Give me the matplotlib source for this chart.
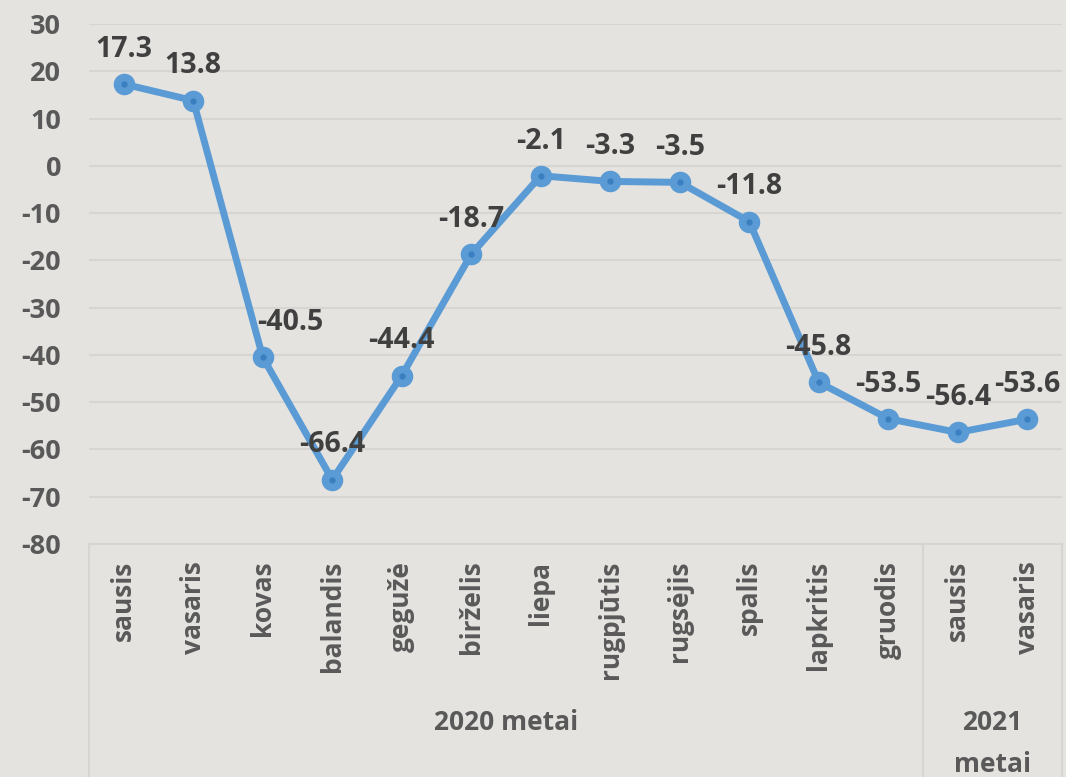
import matplotlib
matplotlib.use("Agg")
import matplotlib.pyplot as plt
from matplotlib.transforms import blended_transform_factory

months = ["sausis", "vasaris", "kovas", "balandis", "gegužė", "birželis", "liepa",
          "rugpjūtis", "rugsėjis", "spalis", "lapkritis", "gruodis", "sausis", "vasaris"]
values = [17.3, 13.8, -40.5, -66.4, -44.4, -18.7, -2.1, -3.3, -3.5, -11.8, -45.8, -53.5, -56.4, -53.6]
groups = ["2020 metai", "2021\nmetai"]
group_sizes = [12, 2]
yticks = list(range(-80, 31, 10))

bg = "#e4e3df"
grid_c = "#d6d5d1"
line_c = "#5b9bd5"
font = "Open Sans"

fig = plt.figure(figsize=(10.66, 7.77), dpi=100, facecolor=bg)
ax = fig.add_axes([89/1066, 1-544/777, (1062-89)/1066, (544-24)/777])
ax.set_facecolor(bg)

x = list(range(len(values)))
ax.plot(x, values, color=line_c, lw=5, marker="o", ms=14.5, mfc=line_c, mec=line_c, zorder=3)
ax.plot(x, values, ls="none", marker="o", ms=3.5, color="#3a7fbf", zorder=4)

label_dx = {2: 27}
for i, v in enumerate(values):
    ax.annotate(f"{v:.1f}", (i, v), xytext=(label_dx.get(i, 0) * 0.72, 25), textcoords="offset points",
                ha="center", va="center", fontsize=20.5, fontweight="bold", color="#404040",
                family=font, zorder=5)

ax.set_xlim(-0.5, len(values) - 0.5)
ax.set_ylim(-80, 30)
ax.set_yticks(yticks)
ax.set_yticklabels([str(t) for t in yticks], fontsize=19.5, fontweight="bold", color="#595959", family=font)
ax.grid(axis="y", color=grid_c, lw=1.5)
ax.set_axisbelow(True)
for s in ["left", "right", "top"]:
    ax.spines[s].set_visible(False)
ax.spines["bottom"].set_color(grid_c)
ax.spines["bottom"].set_linewidth(1.5)
ax.tick_params(axis="y", length=0, pad=20)
ax.tick_params(axis="x", length=0, pad=12)
ax.set_xticks(x)
ax.set_xticklabels(months, rotation=90, fontsize=19, fontweight="bold", color="#595959",
                   family=font, va="top", ha="center")

# group separators and labels
trans = blended_transform_factory(ax.transData, fig.transFigure)
bottom_fig = 1 - 544/777
start = -0.5
bounds = [start]
for gs in group_sizes:
    start += gs
    bounds.append(start)
for b in bounds:
    ax.plot([b, b], [0, bottom_fig], transform=trans, color=grid_c, lw=1.5, clip_on=False)
line_ys = [723, 765]
for gi, g in enumerate(groups):
    cx = (bounds[gi] + bounds[gi + 1]) / 2
    for li, part in enumerate(g.split("\n")):
        ax.text(cx, 1 - line_ys[li]/777, part, transform=trans, ha="center", va="center", fontsize=19,
                fontweight="bold", color="#595959", family=font)

fig.savefig("out.png", dpi=100, facecolor=bg)
